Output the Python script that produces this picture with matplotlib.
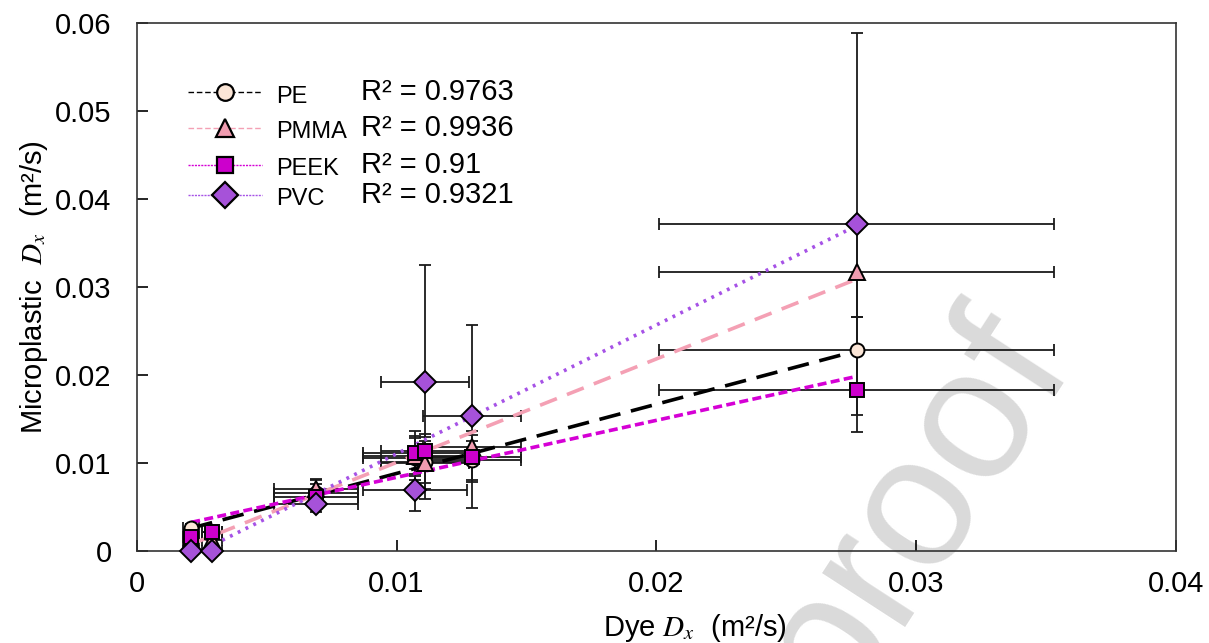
import numpy as np
import matplotlib.pyplot as plt
from matplotlib.lines import Line2D

plt.rcParams['font.family'] = ['Liberation Sans', 'DejaVu Sans']
plt.rcParams['mathtext.fontset'] = 'stix'

# Dye Dx (x) and its spread, shared by every polymer
dye_dx = np.array([0.0021, 0.0029, 0.0069, 0.0107, 0.0111, 0.0129, 0.0277])
dye_err = np.array([0.0003, 0.0004, 0.0016, 0.0020, 0.0017, 0.0019, 0.0076])

# Microplastic Dx per polymer
pe_dx = np.array([0.0026, 0.0022, 0.0066, 0.0106, 0.0101, 0.0103, 0.0228])
pe_err = np.array([0.0005, 0.0006, 0.0015, 0.0025, 0.0024, 0.0022, 0.0038])
pmma_dx = np.array([0.0012, 0.0012, 0.0070, 0.0108, 0.0100, 0.0118, 0.0317])
pmma_err = np.array([0.0004, 0.0005, 0.0012, 0.0020, 0.0030, 0.0014, 0.0051])
peek_dx = np.array([0.0016, 0.0022, 0.0062, 0.0111, 0.0114, 0.0107, 0.0183])
peek_err = np.array([0.0006, 0.0006, 0.0014, 0.0026, 0.0019, 0.0029, 0.0048])
pvc_dx = np.array([0.0000, 0.0000, 0.0054, 0.0069, 0.0192, 0.0153, 0.0372])
pvc_err = np.array([0.0003, 0.0003, 0.0010, 0.0024, 0.0133, 0.0104, 0.0217])

# linear trendlines (slope, intercept) and their R²
names = ['PE', 'PMMA', 'PEEK', 'PVC']
slopes = [0.787, 1.177, 0.648, 1.465]
intercepts = [0.00095, -0.0017, 0.0019, -0.0036]
r2 = ['0.9763', '0.9936', '0.91', '0.9321']

ys = [pe_dx, pmma_dx, peek_dx, pvc_dx]
yerrs = [pe_err, pmma_err, peek_err, pvc_err]
markers = ['o', '^', 's', 'D']
fills = ['#fbe5d6', '#f09cb0', '#cc00cc', '#a652d9']
line_cols = ['black', '#f4a0b4', '#d500d5', '#a652e6']
dashes = [(6, 3), (5, 3), (2.5, 1.2), (0.8, 1.6)]
msizes = [10, 11, 10, 11]

fig = plt.figure(figsize=(12.09, 6.43), dpi=100)
ax = fig.add_axes([0.113, 0.143, 0.86, 0.821])

# watermark, behind everything
fig.text(0.755, 0.21, 'proof', fontsize=135, color='#dadada', rotation=57,
         ha='center', va='center', zorder=-1)
ax.patch.set_alpha(0)

for i in range(4):
    ax.errorbar(dye_dx, ys[i], xerr=dye_err, yerr=yerrs[i], fmt='none',
                ecolor='#1a1a1a', elinewidth=1.3, capsize=4, capthick=1.3, zorder=2)

for i in range(4):
    xx = np.array([dye_dx.min(), dye_dx.max()])
    ax.plot(xx, slopes[i] * xx + intercepts[i], color=line_cols[i], lw=2.6,
            dashes=dashes[i], zorder=3)

for i in range(4):
    ax.plot(dye_dx, ys[i], ls='none', marker=markers[i], ms=msizes[i],
            mfc=fills[i], mec='black', mew=1.4, zorder=4, clip_on=False)

# legend drawn by hand
row_y = [0.869, 0.802, 0.731, 0.674]
for i in range(4):
    ax.add_line(Line2D([0.049, 0.121], [row_y[i], row_y[i]], transform=ax.transAxes,
                       color=line_cols[i], lw=1.0, dashes=(4, 2) if i < 2 else (1.5, 0.8)))
    ax.add_line(Line2D([0.085], [row_y[i]], transform=ax.transAxes, ls='none',
                       marker=markers[i], ms=msizes[i] + 2, mfc=fills[i], mec='black', mew=1.6))
    ax.text(0.134, row_y[i] - 0.008, names[i], transform=ax.transAxes, fontsize=17,
            va='center', ha='left')
    ax.text(0.216, row_y[i], 'R² = ' + r2[i], transform=ax.transAxes, fontsize=21,
            va='center', ha='left')

ax.set_xlim(0, 0.04)
ax.set_ylim(0, 0.06)
ax.set_xticks([0, 0.01, 0.02, 0.03, 0.04])
ax.set_xticklabels(['0', '0.01', '0.02', '0.03', '0.04'])
ax.set_yticks([0, 0.01, 0.02, 0.03, 0.04, 0.05, 0.06])
ax.set_yticklabels(['0', '0.01', '0.02', '0.03', '0.04', '0.05', '0.06'])
ax.tick_params(direction='in', length=8, width=1.2, labelsize=21)
ax.tick_params(axis='x', pad=14)
ax.tick_params(axis='y', pad=18)
for s in ax.spines.values():
    s.set_linewidth(1.2)
    s.set_color('#333333')

ax.set_xlabel('Dye $D_x$  (m²/s)', fontsize=21)
ax.xaxis.set_label_coords(0.537, -0.115)
ax.set_ylabel('Microplastic  $D_x$  (m²/s)', fontsize=21)
ax.yaxis.set_label_coords(-0.083, 0.5)

fig.savefig('out.png', dpi=100)
